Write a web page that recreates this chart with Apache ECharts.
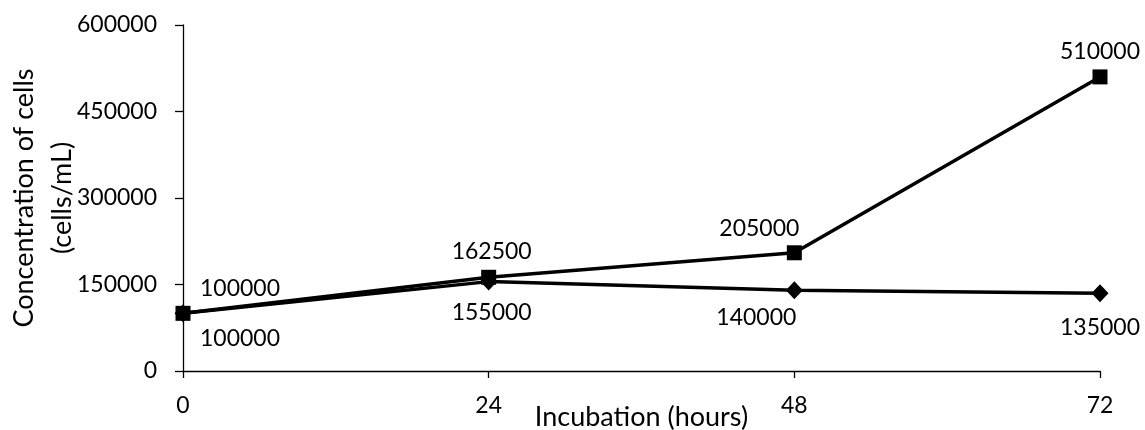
<!DOCTYPE html>
<html>
<head>
<meta charset="utf-8">
<script src="https://cdn.jsdelivr.net/npm/echarts@6/dist/echarts.min.js"></script>
<style>
  html, body { margin: 0; padding: 0; background: #fff; }
  #chart { width: 1145px; height: 430px; }
</style>
</head>
<body>
<div id="chart"></div>
<script>
// data
const hours = [0, 24, 48, 72]
const squareSeries = [100000, 162500, 205000, 510000]
const diamondSeries = [100000, 155000, 140000, 135000]
const yTicks = { min: 0, max: 600000, interval: 150000 }
const xTicks = { min: 0, max: 72, interval: 24 }

// where each value label sits relative to its point (px)
const squareLabelOffsets = [[57, -25], [3, -26], [-35, -24], [0, -25]]
const diamondLabelOffsets = [[57, 25], [3, 31], [-38, 27], [0, 34]]

const font = 'Lato'
const fontSize = 23
const nameSize = 27

function buildData(values, offsets) {
  return values.map((v, i) => ({
    value: [hours[i], v],
    label: { offset: offsets[i] }
  }))
}

const chart = echarts.init(document.getElementById('chart'))

chart.setOption({
  animation: false,
  textStyle: { fontFamily: font },
  grid: {
    left: 183,
    right: 45,
    top: 25,
    bottom: 59,
    containLabel: false,
    outerBoundsMode: 'none'
  },
  xAxis: {
    type: 'value',
    min: xTicks.min,
    max: xTicks.max,
    interval: xTicks.interval,
    name: 'Incubation (hours)',
    nameLocation: 'middle',
    nameGap: 33,
    nameMoveOverlap: false,
    nameTextStyle: { color: '#000', fontSize: nameSize, fontFamily: font },
    axisLine: { lineStyle: { color: '#000', width: 1.3 } },
    axisTick: { show: true, length: 7, lineStyle: { color: '#000', width: 1.3 } },
    axisLabel: { color: '#000', fontSize: fontSize, fontFamily: font, margin: 23 },
    splitLine: { show: false }
  },
  yAxis: {
    type: 'value',
    min: yTicks.min,
    max: yTicks.max,
    interval: yTicks.interval,
    name: 'Concentration of cells\n(cells/mL)',
    nameLocation: 'middle',
    nameRotate: 90,
    nameGap: 102,
    nameMoveOverlap: false,
    nameTextStyle: { color: '#000', fontSize: nameSize, fontFamily: font, lineHeight: 38 },
    axisLine: { show: true, lineStyle: { color: '#000', width: 1.3 } },
    axisTick: { show: true, length: 8, lineStyle: { color: '#000', width: 1.3 } },
    axisLabel: {
      color: '#000',
      fontSize: fontSize,
      fontFamily: font,
      margin: 26,
      formatter: v => String(v)
    },
    splitLine: { show: false }
  },
  series: [
    {
      name: 'square',
      type: 'line',
      data: buildData(squareSeries, squareLabelOffsets),
      symbol: 'rect',
      symbolSize: 15,
      showAllSymbol: true,
      lineStyle: { color: '#000', width: 3.5 },
      itemStyle: { color: '#000', borderRadius: 2 },
      label: {
        show: true,
        position: 'inside',
        color: '#000',
        fontSize: fontSize,
        fontFamily: font,
        formatter: p => String(p.value[1])
      },
      z: 3
    },
    {
      name: 'diamond',
      type: 'line',
      data: buildData(diamondSeries, diamondLabelOffsets),
      symbol: 'diamond',
      symbolSize: [17, 18],
      showAllSymbol: true,
      lineStyle: { color: '#000', width: 3.5 },
      itemStyle: { color: '#000' },
      label: {
        show: true,
        position: 'inside',
        color: '#000',
        fontSize: fontSize,
        fontFamily: font,
        formatter: p => String(p.value[1])
      },
      z: 2
    }
  ]
})
</script>
</body>
</html>
